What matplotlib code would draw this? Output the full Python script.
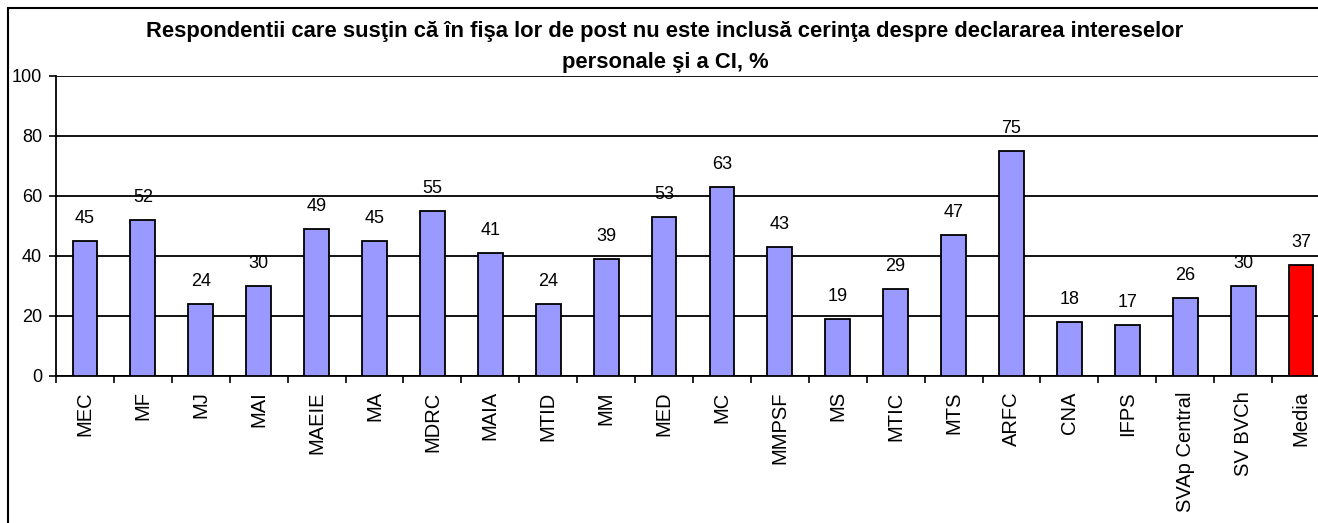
import matplotlib
matplotlib.use('Agg')
import matplotlib.pyplot as plt
from matplotlib.patches import Rectangle
import numpy as np

# date
categorii = ['MEC', 'MF', 'MJ', 'MAI', 'MAEIE', 'MA', 'MDRC', 'MAIA', 'MTID', 'MM',
             'MED', 'MC', 'MMPSF', 'MS', 'MTIC', 'MTS', 'ARFC', 'CNA', 'IFPS',
             'SVAp Central', 'SV BVCh', 'Media']
valori = [45, 52, 24, 30, 49, 45, 55, 41, 24, 39, 53, 63, 43, 19, 29, 47, 75, 18, 17, 26, 30, 37]
titlu = ('Respondentii care susţin că în fişa lor de post nu este inclusă cerinţa despre declararea intereselor\n'
         'personale şi a CI, %')

plt.rcParams['font.family'] = ['Liberation Sans', 'DejaVu Sans']

W, H = 1318, 523
fig = plt.figure(figsize=(W / 100, H / 100), dpi=100)
ax = fig.add_axes([56 / W, (H - 376) / H, 1274 / W, 300 / H])

x = np.arange(len(categorii))
culori = ['#9999FF'] * (len(categorii) - 1) + ['#FF0000']
ax.bar(x, valori, width=0.43, color=culori, edgecolor='black', linewidth=1.3, zorder=3)

for i, v in enumerate(valori):
    ax.annotate(str(v), (i, v), xytext=(0, 16.5), textcoords='offset points',
                ha='center', va='center', fontsize=13)

ax.set_xlim(-0.5, len(categorii) - 0.5)
ax.set_ylim(0, 100)
ax.set_yticks(range(0, 101, 20))
ax.tick_params(axis='y', labelsize=13, length=5, width=1.2, pad=5)
ax.yaxis.grid(True, color='black', linewidth=1.3, zorder=0)

# ticks intre categorii, etichete la centru
ax.set_xticks(np.arange(-0.5, len(categorii), 1))
ax.set_xticklabels([])
ax.tick_params(axis='x', which='major', length=5, width=1.2)
ax.set_xticks(x, minor=True)
ax.set_xticklabels(categorii, minor=True, rotation=90, fontsize=14.5)
ax.tick_params(axis='x', which='minor', length=0, pad=11)

for s in ['top', 'right']:
    ax.spines[s].set_visible(False)
ax.spines['left'].set_linewidth(1.3)
ax.spines['bottom'].set_linewidth(1.3)
ax.set_axisbelow(True)

fig.text(665 / W, 1 - 47 / H, titlu, ha='center', va='center', fontsize=15.8,
         fontweight='bold', linespacing=1.65)

# chenarul figurii
fig.patches.append(Rectangle((8 / W, -0.5), 1.5, 1.5 - 8 / H, transform=fig.transFigure,
                             fill=False, edgecolor='black', linewidth=1.5))

fig.savefig('out.png', dpi=100)
